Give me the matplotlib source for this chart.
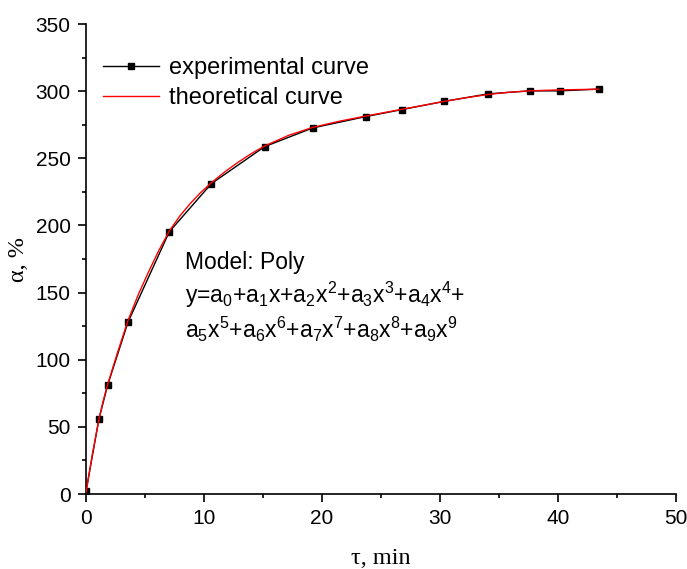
import numpy as np
import matplotlib
matplotlib.use("Agg")
import matplotlib.pyplot as plt
from matplotlib.ticker import MultipleLocator

plt.rcParams["font.family"] = ["Liberation Sans", "DejaVu Sans"]
plt.rcParams["mathtext.fontset"] = "custom"
plt.rcParams["mathtext.rm"] = "Liberation Sans"
plt.rcParams["mathtext.it"] = "Liberation Sans"

# =================================
# Data
# =================================
tau_exp = [0.0, 1.1, 1.83, 3.56, 7.06, 10.62, 15.14, 19.21, 23.73,
           26.78, 30.31, 34.09, 37.59, 40.14, 43.45]
alpha_exp = [2.0, 56.0, 81.0, 128.0, 195.3, 231.1, 258.7, 272.6, 281.1,
             286.3, 292.3, 298.0, 300.2, 300.2, 301.5]

# red (theoretical) curve
tau_theory = [0.0, 0.55, 1.1, 1.465, 1.83, 2.695, 3.56, 4.435, 5.31, 6.185,
              7.06, 7.95, 8.84, 9.73, 10.62, 11.75, 12.88, 14.01, 15.14,
              17.175, 19.21, 21.47, 23.73, 25.255, 26.78, 28.545, 30.31,
              32.2, 34.09, 35.84, 37.59, 38.865, 40.14, 41.795, 43.45]
alpha_theory = [1.0, 30.2, 56.0, 69.6, 81.5, 106.0, 129.3, 148.6, 165.6, 181.6,
                195.9, 207.0, 216.4, 224.6, 231.8, 239.8, 247.0, 253.5, 259.2,
                267.1, 273.0, 277.6, 281.5, 284.0, 286.5, 289.4, 292.3,
                295.1, 297.5, 299.2, 300.2, 300.6, 300.9, 301.2, 301.5]

model_lines = [
    "Model: Poly",
    "y=a$\\mathregular{_0}$+a$\\mathregular{_1}$x+a$\\mathregular{_2}$x$\\mathregular{^2}$"
    "+a$\\mathregular{_3}$x$\\mathregular{^3}$+a$\\mathregular{_4}$x$\\mathregular{^4}$+",
    "a$\\mathregular{_5}$x$\\mathregular{^5}$+a$\\mathregular{_6}$x$\\mathregular{^6}$"
    "+a$\\mathregular{_7}$x$\\mathregular{^7}$+a$\\mathregular{_8}$x$\\mathregular{^8}$"
    "+a$\\mathregular{_9}$x$\\mathregular{^9}$",
]

# =================================
# Plot
# =================================
fig = plt.figure(figsize=(6.87, 5.69), dpi=100)
ax = fig.add_axes([0.1252, 0.1318, 0.8588, 0.826])

ax.plot(tau_exp, alpha_exp, color="black", lw=1.0, marker="s", ms=5,
        label="experimental curve", zorder=3)
ax.plot(tau_theory, alpha_theory, color="red", lw=1.0,
        label="theoretical curve", zorder=4)

ax.set_xlim(0, 50)
ax.set_ylim(0, 350)
ax.xaxis.set_major_locator(MultipleLocator(10))
ax.xaxis.set_minor_locator(MultipleLocator(5))
ax.yaxis.set_major_locator(MultipleLocator(50))
ax.yaxis.set_minor_locator(MultipleLocator(25))

for side in ("top", "right"):
    ax.spines[side].set_visible(False)
for side in ("left", "bottom"):
    ax.spines[side].set_linewidth(1.2)
ax.tick_params(which="major", direction="out", length=6, width=1.2,
               labelsize=15, pad=5)
ax.tick_params(which="minor", direction="out", length=3, width=1.2)

serif = ["Liberation Serif", "DejaVu Serif"]
ax.set_xlabel("τ, min", fontsize=17.5, family=serif, labelpad=14)
ax.set_ylabel("α, %", fontsize=17.5, family=serif, labelpad=5)

ax.legend(loc="upper left", bbox_to_anchor=(0.0, 0.965), frameon=False,
          fontsize=17, handlelength=2.4, handletextpad=0.4,
          labelspacing=0.35, borderaxespad=0.3)

for txt, yb in zip(model_lines, [167.7, 142.5, 116.5]):
    ax.text(8.4, yb, txt, fontsize=16.5, va="baseline", ha="left")

fig.savefig("out.png", dpi=100)
